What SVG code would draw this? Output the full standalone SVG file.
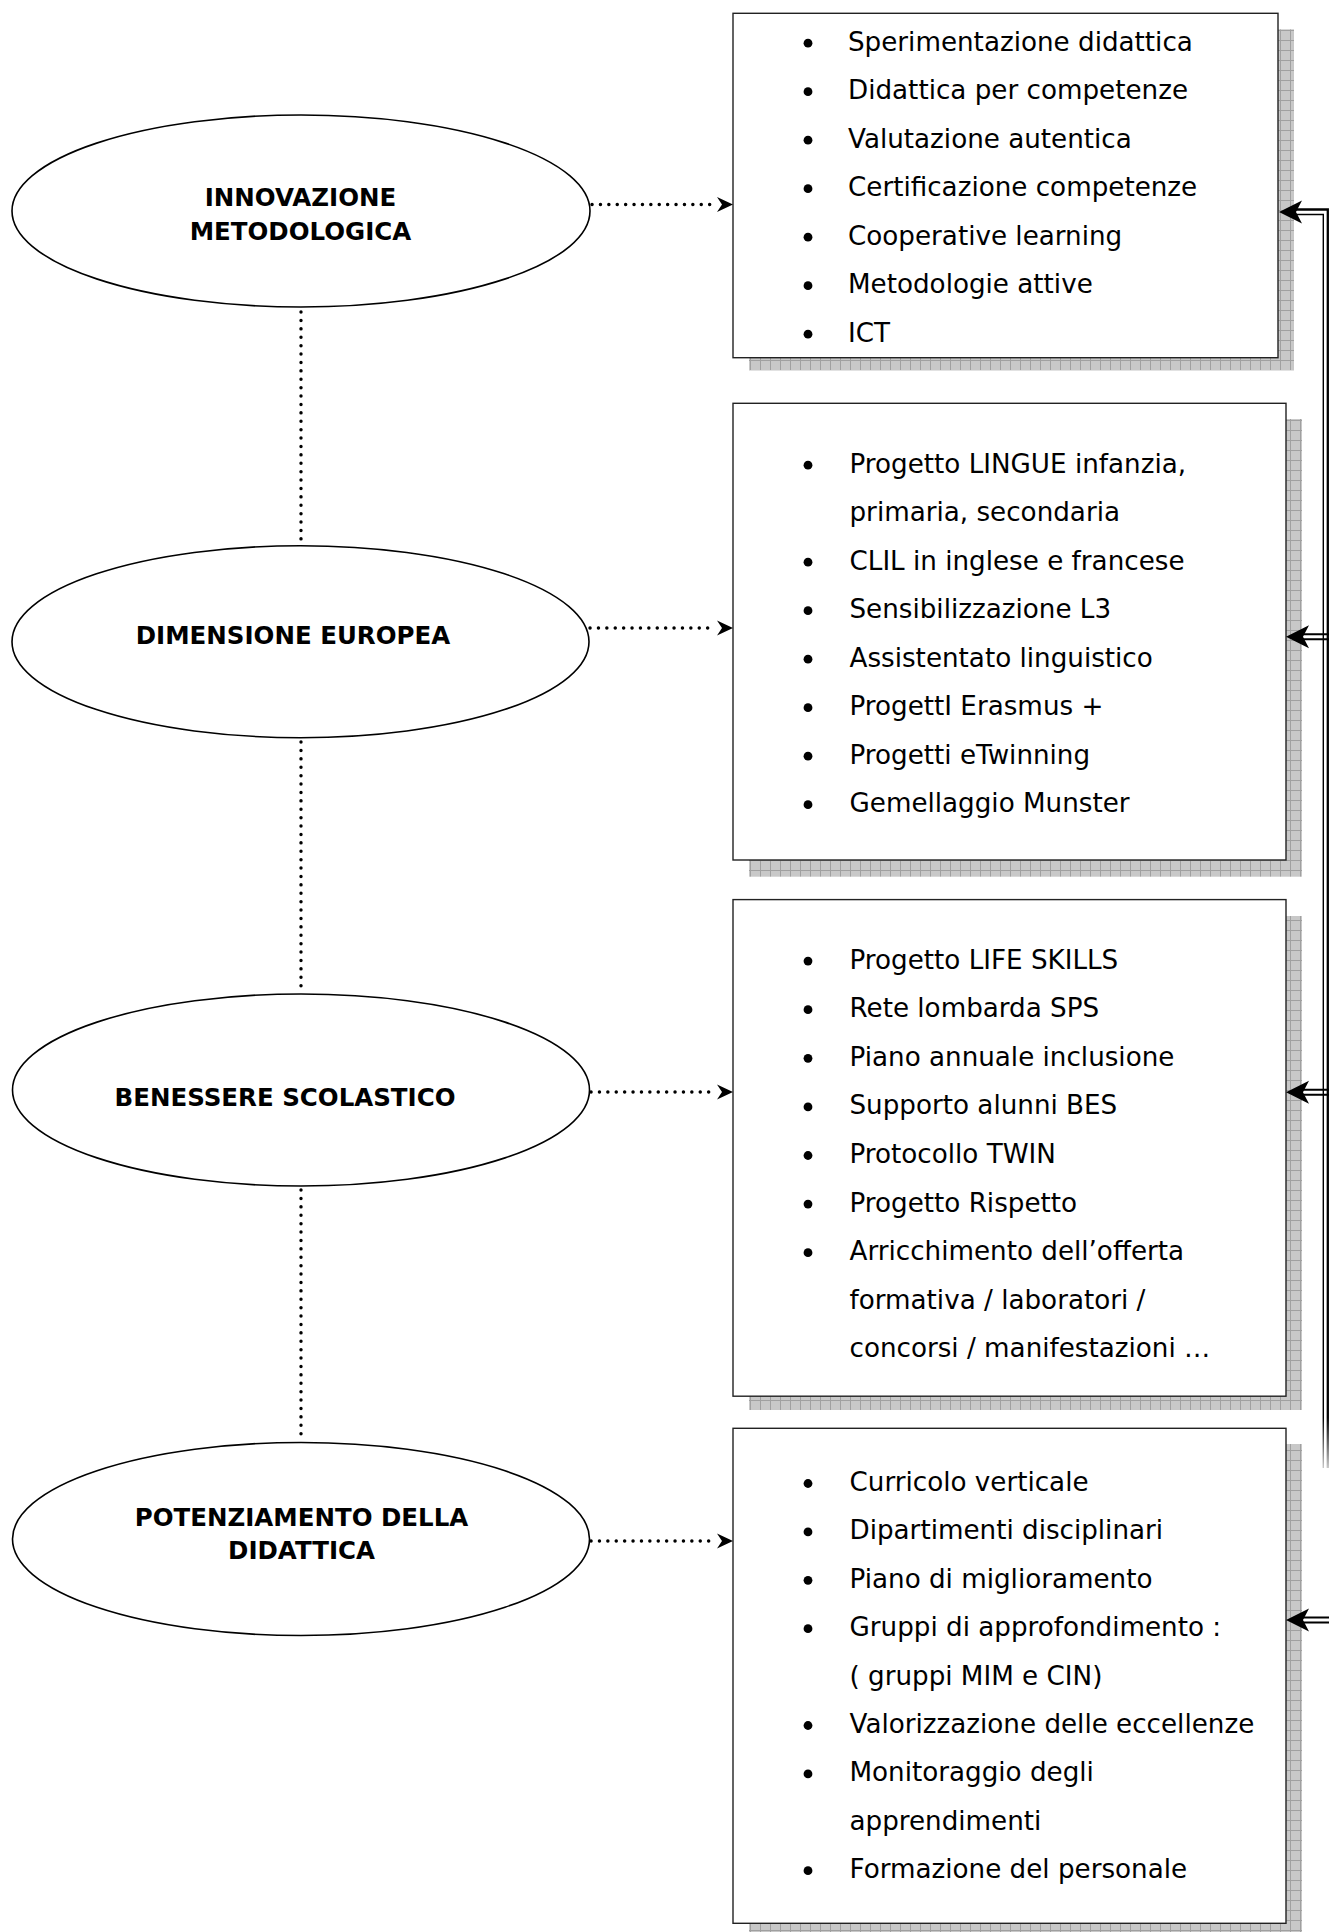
<svg xmlns="http://www.w3.org/2000/svg" width="1329" height="1932" viewBox="0 0 1329 1932">
<style>
.ell{fill:#fff;stroke:#000;stroke-width:1.6}
.et{font-family:"DejaVu Sans",Verdana,sans-serif;font-weight:bold;font-size:24.5px;fill:#000;text-anchor:middle}
.box{fill:#fff;stroke:#222;stroke-width:1.4}
.sh{fill:url(#grid)}
.bt{font-family:"DejaVu Sans",Verdana,sans-serif;font-size:26.2px;fill:#000}
.dot{stroke:#000;stroke-width:3.4;stroke-linecap:round;stroke-dasharray:0.1 8.3;fill:none}
.dl{stroke:#000;stroke-width:2;fill:none}
</style>
<defs>
<pattern id="grid" width="10" height="10" patternUnits="userSpaceOnUse"><rect width="10" height="10" fill="#c8c8c8"/><path d="M0 0.5H10M0.5 0V10" stroke="#a0a0a0" stroke-width="1"/></pattern>
<linearGradient id="fade" gradientUnits="userSpaceOnUse" x1="0" y1="209" x2="0" y2="1468"><stop offset="0" stop-color="#000"/><stop offset="0.96" stop-color="#000"/><stop offset="1" stop-color="#c8c8c8"/></linearGradient>
</defs>

<g id="e1">
<ellipse class="ell" cx="301" cy="211" rx="289" ry="96"/>
<text class="et" x="300.5" y="206">INNOVAZIONE</text>
<text class="et" x="300.5" y="240">METODOLOGICA</text>
</g>
<g id="e2">
<ellipse class="ell" cx="300.5" cy="641.7" rx="288.5" ry="96"/>
<text class="et" x="293" y="643.5">DIMENSIONE EUROPEA</text>
</g>
<g id="e3">
<ellipse class="ell" cx="301" cy="1090" rx="288.5" ry="96"/>
<text class="et" x="285" y="1105.5">BENESSERE SCOLASTICO</text>
</g>
<g id="e4">
<ellipse class="ell" cx="301" cy="1539" rx="288.5" ry="96.5"/>
<text class="et" x="301.5" y="1525.5">POTENZIAMENTO DELLA</text>
<text class="et" x="301.5" y="1558.7">DIDATTICA</text>
</g>

<g id="b1">
<rect class="sh" x="749" y="29.3" width="545" height="341"/>
<rect class="box" x="733" y="13.3" width="545" height="344.4"/>
<g fill="#000"><circle cx="808" cy="43.2" r="4.4"/><circle cx="808" cy="91.7" r="4.4"/><circle cx="808" cy="140.2" r="4.4"/><circle cx="808" cy="188.7" r="4.4"/><circle cx="808" cy="237.2" r="4.4"/><circle cx="808" cy="285.7" r="4.4"/><circle cx="808" cy="334.2" r="4.4"/></g>
<text class="bt" x="848" y="50.7">Sperimentazione didattica</text>
<text class="bt" x="848" y="99.2">Didattica per competenze</text>
<text class="bt" x="848" y="147.7">Valutazione autentica</text>
<text class="bt" x="848" y="196.2">Certificazione competenze</text>
<text class="bt" x="848" y="244.7">Cooperative learning</text>
<text class="bt" x="848" y="293.2">Metodologie attive</text>
<text class="bt" x="848" y="341.7">ICT</text>
</g>

<g id="b2">
<rect class="sh" x="749" y="419" width="553" height="457.7"/>
<rect class="box" x="733" y="403.3" width="553" height="456.7"/>
<g fill="#000"><circle cx="808" cy="465.2" r="4.4"/><circle cx="808" cy="562.2" r="4.4"/><circle cx="808" cy="610.7" r="4.4"/><circle cx="808" cy="659.2" r="4.4"/><circle cx="808" cy="707.7" r="4.4"/><circle cx="808" cy="756.2" r="4.4"/><circle cx="808" cy="804.7" r="4.4"/></g>
<text class="bt" x="849.5" y="472.7">Progetto LINGUE infanzia,</text>
<text class="bt" x="849.5" y="521.2">primaria, secondaria</text>
<text class="bt" x="849.5" y="569.7">CLIL in inglese e francese</text>
<text class="bt" x="849.5" y="618.2">Sensibilizzazione L3</text>
<text class="bt" x="849.5" y="666.7">Assistentato linguistico</text>
<text class="bt" x="849.5" y="715.2">ProgettI Erasmus +</text>
<text class="bt" x="849.5" y="763.7">Progetti eTwinning</text>
<text class="bt" x="849.5" y="812.2">Gemellaggio Munster</text>
</g>

<g id="b3">
<rect class="sh" x="749" y="916" width="553" height="494"/>
<rect class="box" x="733" y="899.6" width="553" height="496.6"/>
<g fill="#000"><circle cx="808" cy="961.1" r="4.4"/><circle cx="808" cy="1009.7" r="4.4"/><circle cx="808" cy="1058.3" r="4.4"/><circle cx="808" cy="1106.9" r="4.4"/><circle cx="808" cy="1155.5" r="4.4"/><circle cx="808" cy="1204.1" r="4.4"/><circle cx="808" cy="1252.7" r="4.4"/></g>
<text class="bt" x="849.5" y="968.6">Progetto LIFE SKILLS</text>
<text class="bt" x="849.5" y="1017.2">Rete lombarda SPS</text>
<text class="bt" x="849.5" y="1065.8">Piano annuale inclusione</text>
<text class="bt" x="849.5" y="1114.4">Supporto alunni BES</text>
<text class="bt" x="849.5" y="1163">Protocollo TWIN</text>
<text class="bt" x="849.5" y="1211.6">Progetto Rispetto</text>
<text class="bt" x="849.5" y="1260.2">Arricchimento dell’offerta</text>
<text class="bt" x="849.5" y="1308.8">formativa / laboratori /</text>
<text class="bt" x="849.5" y="1357.4">concorsi / manifestazioni …</text>
</g>

<g id="b4">
<rect class="sh" x="749" y="1444" width="553" height="495"/>
<rect class="box" x="733" y="1428.3" width="553" height="495"/>
<g fill="#000"><circle cx="808" cy="1483.5" r="4.4"/><circle cx="808" cy="1531.9" r="4.4"/><circle cx="808" cy="1580.3" r="4.4"/><circle cx="808" cy="1628.7" r="4.4"/><circle cx="808" cy="1725.5" r="4.4"/><circle cx="808" cy="1773.9" r="4.4"/><circle cx="808" cy="1870.7" r="4.4"/></g>
<text class="bt" x="849.5" y="1491">Curricolo verticale</text>
<text class="bt" x="849.5" y="1539.4">Dipartimenti disciplinari</text>
<text class="bt" x="849.5" y="1587.8">Piano di miglioramento</text>
<text class="bt" x="849.5" y="1636.2">Gruppi di approfondimento :</text>
<text class="bt" x="849.5" y="1684.6">( gruppi MIM e CIN)</text>
<text class="bt" x="849.5" y="1733">Valorizzazione delle eccellenze</text>
<text class="bt" x="849.5" y="1781.4">Monitoraggio degli</text>
<text class="bt" x="849.5" y="1829.8">apprendimenti</text>
<text class="bt" x="849.5" y="1878.2">Formazione del personale</text>
</g>

<g id="connectors">
<path class="dot" d="M592 204.5H716"/>
<path d="M733 204.5L717 197L722 204.5L717 212Z"/>
<path class="dot" d="M590 628H716"/>
<path d="M733 628L717 620.5L722 628L717 635.5Z"/>
<path class="dot" d="M591 1092H716"/>
<path d="M733 1092L717 1084.5L722 1092L717 1099.5Z"/>
<path class="dot" d="M591 1541H716"/>
<path d="M733 1541L717 1533.5L722 1541L717 1548.5Z"/>
<path class="dot" d="M301 312V542"/>
<path class="dot" d="M301 742V992"/>
<path class="dot" d="M301 1190V1438"/>
<path d="M1292 209.5H1327.8V1468" stroke="url(#fade)" stroke-width="2.3" fill="none"/>
<path d="M1292 214.5H1323.3V1468" stroke="url(#fade)" stroke-width="1.4" fill="none"/>
<path d="M1279 212L1302 200.5L1296 212L1302 223.5Z"/>
<path class="dl" d="M1298 634.2H1329M1298 639.2H1329"/>
<path d="M1286 636.7L1309 625.2L1303 636.7L1309 648.2Z"/>
<path class="dl" d="M1298 1089.8H1329M1298 1094.8H1329"/>
<path d="M1286 1092.3L1309 1080.8L1303 1092.3L1309 1103.8Z"/>
<path class="dl" d="M1298 1617.5H1329M1298 1622.5H1329"/>
<path d="M1286 1620L1309 1608.5L1303 1620L1309 1631.5Z"/>
</g>
</svg>
